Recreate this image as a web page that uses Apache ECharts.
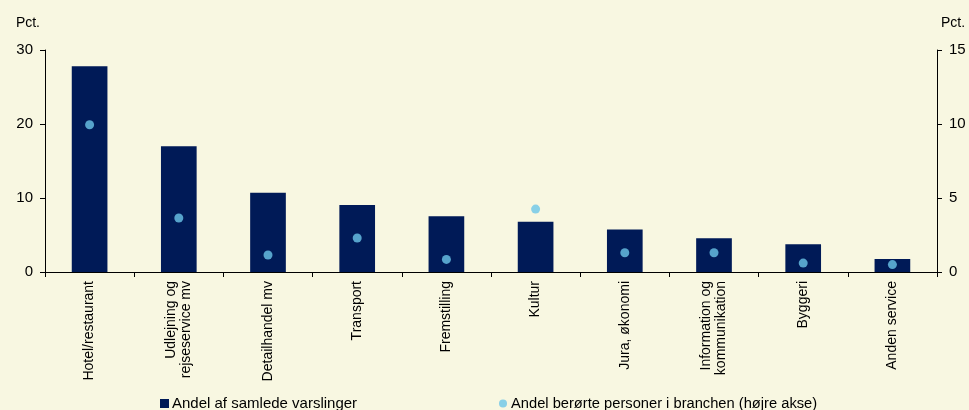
<!DOCTYPE html>
<html>
<head>
<meta charset="utf-8">
<script src="https://cdn.jsdelivr.net/npm/echarts@6/dist/echarts.min.js"></script>
<style>
  html, body { margin: 0; padding: 0; background: #F8F7E1; }
  #chart { width: 969px; height: 410px; }
</style>
</head>
<body>
<div id="chart"></div>
<script>
// brancher
const categories = [
  "Hotel/restaurant",
  "Udlejning og\nrejseservice mv",
  "Detailhandel mv",
  "Transport",
  "Fremstilling",
  "Kultur",
  "Jura, økonomi",
  "Information og\nkommunikation",
  "Byggeri",
  "Anden service",
];
// Andel af samlede varslinger (venstre akse)
const varslinger = [27.8, 17.0, 10.7, 9.05, 7.55, 6.8, 5.75, 4.55, 3.75, 1.75];
// Andel berørte personer i branchen (højre akse)
const beroerte = [9.95, 3.65, 1.15, 2.3, 0.85, 4.25, 1.3, 1.3, 0.6, 0.5];

const barColor = "#001A57";
const dotColor = "#6CC5E9";
const font = "Liberation Sans, Arial, sans-serif";

const chart = echarts.init(document.getElementById("chart"));

const axisCommon = {
  axisLine: { show: true, lineStyle: { color: "#000", width: 1 } },
  axisTick: { show: true, length: 5, lineStyle: { color: "#000" } },
  splitLine: { show: false },
};

const options = {
  backgroundColor: "#F8F7E1",
  animation: false,
  textStyle: { fontFamily: font },
  grid: { left: 45, right: 32, top: 50, bottom: 138 },
  legend: [
    {
      left: 160,
      top: 396,
      padding: 0,
      itemWidth: 9,
      itemHeight: 9,
      itemGap: 3,
      textStyle: { fontSize: 15, color: "#000", fontFamily: font, padding: [0, 0, 0, -2] },
      data: [{ name: "Andel af samlede varslinger", icon: "rect" }],
    },
    {
      left: 499,
      top: 396,
      padding: 0,
      itemWidth: 8,
      itemHeight: 8,
      textStyle: { fontSize: 14.7, color: "#000", fontFamily: font, padding: [0, 0, 0, -1] },
      data: [{ name: "Andel berørte personer i branchen (højre akse)", icon: "circle" }],
    },
  ],
  xAxis: {
    type: "category",
    data: categories,
    ...axisCommon,
    axisTick: { show: true, length: 5, alignWithLabel: false, lineStyle: { color: "#000" } },
    axisLabel: {
      rotate: 90,
      interval: 0,
      margin: 9,
      fontSize: 14,
      lineHeight: 15,
      color: "#000",
      fontFamily: font,
    },
  },
  yAxis: [
    {
      type: "value",
      min: 0,
      max: 30,
      interval: 10,
      ...axisCommon,
      name: "Pct.",
      nameLocation: "end",
      nameGap: 20,
      nameTextStyle: { fontSize: 14, color: "#000", align: "right", padding: [0, 5, 0, 0] },
      axisLabel: { fontSize: 15, color: "#000", margin: 12 },
    },
    {
      type: "value",
      min: 0,
      max: 15,
      interval: 5,
      position: "right",
      ...axisCommon,
      name: "Pct.",
      nameLocation: "end",
      nameGap: 20,
      nameTextStyle: { fontSize: 14, color: "#000", align: "left", padding: [0, 0, 0, 4] },
      axisLabel: { fontSize: 15, color: "#000", margin: 12 },
    },
  ],
  series: [
    {
      name: "Andel af samlede varslinger",
      type: "bar",
      data: varslinger,
      barWidth: "40%",
      itemStyle: { color: barColor },
      z: 2,
    },
    {
      name: "Andel berørte personer i branchen (højre akse)",
      type: "scatter",
      yAxisIndex: 1,
      data: beroerte,
      symbol: "circle",
      symbolSize: 9,
      itemStyle: { color: dotColor },
      z: 3,
    },
  ],
};

chart.setOption(options);
</script>
</body>
</html>
